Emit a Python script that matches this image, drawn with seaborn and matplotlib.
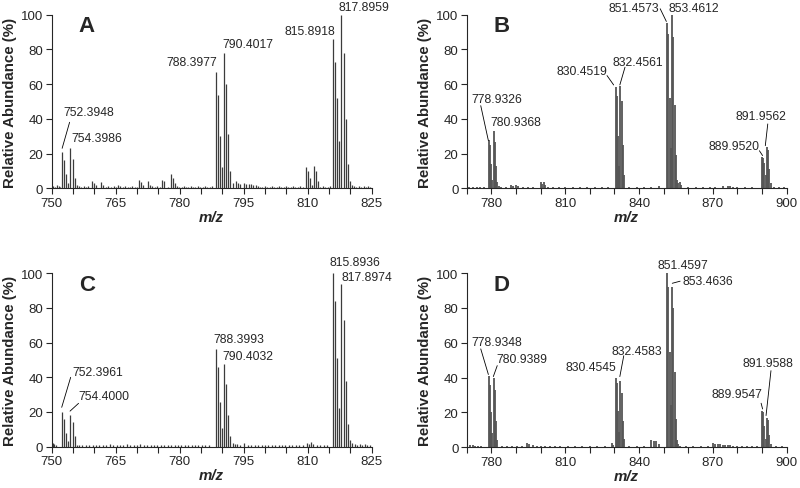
import matplotlib
matplotlib.use("Agg")
import matplotlib.pyplot as plt
import seaborn as sns

# ---- data (m/z, relative abundance %) ----
peaks_a = [
    (752.39, 21), (752.89, 16), (753.39, 8), (753.89, 3),
    (754.40, 23), (754.90, 17), (755.40, 6), (755.90, 2),
    (759.4, 4), (759.9, 3), (760.4, 2), (761.5, 3.5), (762.0, 2),
    (770.4, 5), (770.9, 3.5), (771.4, 2), (772.5, 4), (773.0, 2),
    (775.9, 5), (776.4, 4), (777.9, 8), (778.4, 6), (778.9, 3),
    (788.40, 67), (788.90, 54), (789.40, 30), (789.90, 12),
    (790.40, 78), (790.90, 60), (791.40, 31), (791.90, 10),
    (792.4, 3), (793.2, 4), (793.7, 3), (794.2, 2.5), (795.1, 3),
    (795.6, 2.5), (796.2, 2.5), (796.7, 2.5), (797.3, 2), (797.8, 2),
    (809.5, 12), (810.0, 10), (810.5, 6), (811.0, 2),
    (811.5, 13), (812.0, 10), (812.5, 4),
    (815.89, 86), (816.39, 73), (816.89, 52), (817.39, 27),
    (817.90, 100), (818.40, 78), (818.90, 40), (819.40, 14),
    (819.90, 4), (820.40, 2),
]
noise_a = [
    (750.3, 1.5), (750.8, 1), (751.2, 2), (751.7, 1.5), (752.0, 1),
    (756.4, 1.5), (756.9, 1), (757.5, 1.5), (758.0, 1), (758.6, 1.5),
    (762.8, 1), (763.3, 1.5), (763.9, 1), (764.5, 1.5), (765.0, 1),
    (765.6, 2), (766.1, 1.5), (766.7, 1), (767.3, 1.5), (767.8, 1),
    (768.4, 1), (768.9, 1.5), (769.5, 1), (770.0, 1), (773.6, 1.5),
    (774.2, 1), (774.7, 1.5), (775.3, 1), (777.2, 1), (779.4, 1.5),
    (779.9, 1), (780.5, 1), (781.0, 1.5), (781.5, 1), (782.0, 1),
    (782.6, 1.5), (783.1, 1), (783.7, 1), (784.3, 1.5), (784.8, 1),
    (785.4, 1), (785.9, 1.5), (786.5, 1), (787.1, 1), (787.6, 1.5),
    (798.3, 1.5), (798.8, 1), (799.4, 1), (800.0, 1.5), (800.5, 1),
    (801.1, 1), (801.6, 1.5), (802.2, 1), (802.7, 1), (803.3, 1.5),
    (803.8, 1), (804.4, 1), (804.9, 1.5), (805.5, 1), (806.0, 1),
    (806.6, 1.5), (807.1, 1), (807.7, 1), (808.2, 1.5), (808.8, 1),
    (813.0, 1), (813.6, 1.5), (814.1, 1), (814.7, 1), (815.2, 1.5),
    (820.9, 1.5), (821.4, 1), (822.0, 1.5), (822.5, 1), (823.1, 1.5),
    (823.6, 1), (824.2, 1.5), (824.7, 1),
]

peaks_b = [
    (778.93, 28), (779.43, 25), (779.93, 14), (780.43, 5),
    (780.94, 33), (781.44, 27), (781.94, 13), (782.44, 4), (782.94, 1.5),
    (788.0, 2), (789.0, 1.5), (790.0, 2), (791.0, 1.5),
    (800.0, 3.5), (800.5, 2.5), (801.5, 3.5), (802.0, 2), (803.0, 1),
    (830.45, 58.5), (830.95, 53), (831.45, 30), (831.95, 13),
    (832.46, 59), (832.96, 50), (833.46, 25), (833.96, 8),
    (851.46, 95), (851.96, 89), (852.46, 52), (852.96, 23),
    (853.46, 100), (853.96, 87), (854.46, 48), (854.96, 19),
    (855.46, 5), (855.96, 3), (856.46, 4), (856.96, 2),
    (874.0, 1.5), (876.0, 1.5), (877.0, 1.5), (878.0, 1),
    (889.95, 18), (890.45, 17.5), (890.95, 14.5), (891.45, 8),
    (891.96, 24), (892.46, 22), (892.96, 11), (893.46, 3),
]
noise_b = [
    (771.0, 0.8), (772.5, 1), (774.0, 0.8), (775.5, 1), (777.0, 0.8),
    (784.0, 1), (786.0, 0.8), (793.0, 1), (795.0, 0.8), (797.0, 1),
    (805.0, 0.8), (807.5, 1), (810.0, 0.8), (813.0, 1), (816.0, 0.8),
    (819.0, 1), (822.0, 1), (825.0, 0.8), (827.5, 1), (836.0, 1),
    (839.0, 0.8), (842.0, 1), (845.0, 1), (848.0, 1.5), (860.0, 1),
    (863.0, 0.8), (866.0, 1), (869.0, 0.8), (871.0, 1), (880.0, 1),
    (883.0, 0.8), (886.0, 1), (895.0, 1), (897.0, 0.8), (899.0, 1),
]

peaks_c = [
    (752.39, 20), (752.89, 16), (753.39, 8), (753.89, 3),
    (754.40, 18.5), (754.90, 14), (755.40, 6), (755.90, 1),
    (788.40, 56.5), (788.90, 46), (789.40, 25.5), (789.90, 10.5),
    (790.40, 47.5), (790.90, 36), (791.40, 18), (791.90, 6),
    (792.40, 2), (792.90, 1.5), (795.0, 2),
    (809.8, 2), (810.3, 1.5), (810.8, 2.5), (811.3, 1.5),
    (815.89, 100), (816.39, 84), (816.89, 51), (817.39, 22.5),
    (817.90, 94), (818.40, 73), (818.90, 38), (819.40, 13),
    (819.90, 4), (820.40, 2),
]
noise_c = [
    (750.2, 2), (750.6, 1.5), (751.0, 1), (756.5, 1), (757.2, 0.8),
    (758.0, 1), (758.8, 0.8), (759.6, 1), (760.4, 0.8), (761.2, 1),
    (762.0, 0.8), (762.8, 1), (763.6, 1.5), (764.4, 0.8), (765.2, 1),
    (766.0, 1), (766.8, 0.8), (767.6, 1.5), (768.4, 1), (769.2, 0.8),
    (770.0, 1), (770.8, 1.5), (771.6, 1), (772.4, 0.8), (773.2, 1),
    (774.0, 0.8), (774.8, 1), (775.6, 0.8), (776.4, 1), (777.2, 0.8),
    (778.0, 1), (778.8, 0.8), (779.6, 1), (780.4, 0.8), (781.2, 1),
    (782.0, 0.8), (782.8, 1), (783.6, 0.8), (784.4, 1), (785.2, 0.8),
    (786.0, 1), (786.8, 0.8), (793.4, 1.5), (794.2, 1), (796.0, 1),
    (796.8, 0.8), (797.6, 1), (798.4, 0.8), (799.2, 1), (800.0, 0.8),
    (800.8, 1), (801.6, 0.8), (802.4, 1), (803.2, 0.8), (804.0, 1),
    (804.8, 0.8), (805.6, 1), (806.4, 0.8), (807.2, 1), (808.0, 0.8),
    (808.8, 1), (812.2, 1), (813.0, 0.8), (813.8, 1), (814.6, 0.8),
    (821.0, 1.5), (821.6, 1), (822.2, 1.5), (822.8, 1), (823.4, 1.5),
    (824.0, 1), (824.6, 1),
]

peaks_d = [
    (771.5, 1.5), (772.5, 1.5), (773.5, 1), (774.5, 1),
    (778.93, 41), (779.43, 36), (779.93, 20), (780.43, 8),
    (780.94, 40), (781.44, 33), (781.94, 15), (782.44, 4),
    (794.5, 2.5), (795.5, 2), (797.0, 1.5), (798.5, 1), (800.0, 1),
    (829.0, 2.5), (829.5, 1.5),
    (830.45, 40), (830.95, 37), (831.45, 21), (831.95, 9),
    (832.46, 38), (832.96, 31), (833.46, 15), (833.96, 5),
    (845.0, 4), (846.0, 3.5), (847.0, 3.5), (848.0, 2),
    (851.46, 100), (851.96, 92), (852.46, 55), (852.96, 24),
    (853.46, 92), (853.96, 80), (854.46, 43), (854.96, 16),
    (855.46, 4), (855.96, 2), (856.46, 1),
    (870.0, 2.5), (871.0, 2), (872.0, 2), (873.0, 2), (874.0, 1.5),
    (875.0, 1.5), (876.0, 1.5), (877.0, 1.5), (878.0, 1),
    (889.95, 21), (890.45, 20.5), (890.95, 12), (891.45, 5),
    (891.96, 17), (892.46, 15.5), (892.96, 7), (893.46, 2),
]
noise_d = [
    (776.0, 0.8), (784.5, 1), (786.5, 0.8), (788.5, 1), (790.5, 0.8),
    (792.5, 1), (802.0, 1), (804.0, 0.8), (806.0, 1), (808.0, 0.8),
    (811.0, 1), (814.0, 0.8), (817.0, 1), (820.0, 0.8), (823.0, 1),
    (826.0, 0.8), (836.0, 1), (839.0, 0.8), (842.0, 1), (859.0, 1),
    (862.0, 0.8), (865.0, 1), (868.0, 0.8), (880.0, 1), (882.0, 0.8),
    (884.0, 1), (886.0, 1), (888.0, 0.8), (895.5, 1), (898.0, 0.8),
]

labels_a = ["752.3948", "754.3986", "788.3977", "790.4017", "815.8918", "817.8959"]
labels_b = ["778.9326", "780.9368", "830.4519", "832.4561",
            "851.4573", "853.4612", "889.9520", "891.9562"]
labels_c = ["752.3961", "754.4000", "788.3993", "790.4032", "815.8936", "817.8974"]
labels_d = ["778.9348", "780.9389", "830.4545", "832.4583",
            "851.4597", "853.4636", "889.9547", "891.9588"]

# ---- layout of labels: (x, y, ha, leader line or None) ----
place_a = [
    (752.65, 44, "left", (752.45, 23, 754.2, 38)),
    (754.7, 29, "left", None),
    (788.8, 72.6, "right", None),
    (790.1, 83, "left", None),
    (816.4, 90.8, "right", None),
    (817.2, 104.3, "left", None),
]
place_b = [
    (772.0, 51.5, "left", (775.7, 47.6, 778.8, 27.5)),
    (779.7, 38, "left", None),
    (806.5, 67.8, "left", (827.0, 64.9, 829.7, 59.5)),
    (829.4, 72.6, "left", (834.3, 69.7, 832.2, 59.5)),
    (827.8, 104, "left", (848.6, 103.3, 851.1, 96)),
    (852.1, 104, "left", None),
    (868.3, 24.6, "left", (888.9, 21.7, 890.2, 18.9)),
    (879.2, 41.9, "left", (892.3, 37.1, 891.3, 24.6)),
]
place_c = [
    (754.9, 42.9, "left", (754.45, 40, 752.35, 22.7)),
    (756.2, 29.4, "left", (756.3, 25, 754.3, 20.5)),
    (787.9, 62.1, "left", None),
    (790.1, 52.5, "left", None),
    (815.06, 106.3, "left", None),
    (818.0, 97.7, "left", None),
]
place_d = [
    (772.0, 60.3, "left", (775.7, 56.5, 778.8, 41.8)),
    (782.2, 50.7, "left", (782.4, 46.9, 780.8, 40.6)),
    (810.2, 46, "left", None),
    (828.8, 55.5, "left", (833.8, 52.6, 832.2, 40.6)),
    (847.7, 104.9, "left", None),
    (857.6, 95.7, "left", (853.5, 94.2, 856.7, 95.4)),
    (869.3, 30.6, "left", (889.6, 25.3, 890.2, 22)),
    (882.1, 48.3, "left", (893.6, 44, 891.6, 18.2)),
]

sns.set_style("ticks")
plt.rcParams["font.family"] = ["Liberation Sans", "DejaVu Sans"]


def draw_panel(ax, peaks, noise, labels, place, letter, xlim, major, minor,
               color, lw):
    allpk = noise + peaks
    mz = [p[0] for p in allpk]
    ab = [p[1] for p in allpk]
    ax.vlines(mz, 0, ab, colors=color, linewidth=lw)
    ax.set_xlim(*xlim)
    ax.set_ylim(0, 100)
    ax.set_xticks(major)
    ax.set_xticks(minor, minor=True)
    ax.set_yticks([0, 20, 40, 60, 80, 100])
    ax.tick_params(axis="both", which="both", direction="out", length=4,
                   width=0.8, labelsize=9.5, pad=2)
    ax.set_xlabel("m/z", fontsize=10.8, fontweight="bold", style="italic",
                  labelpad=1)
    ax.set_ylabel("Relative Abundance (%)", fontsize=10.8,
                  fontweight="bold", labelpad=3)
    for side in ["left", "bottom"]:
        ax.spines[side].set_linewidth(0.8)
    sns.despine(ax=ax)
    ax.text(0.085, 0.935, letter, transform=ax.transAxes, fontsize=16,
            fontweight="bold", va="center", ha="left")
    for txt, (x, y, ha, lead) in zip(labels, place):
        ax.text(x, y, txt, ha=ha, va="center", fontsize=8.7, clip_on=False)
        if lead is not None:
            ax.plot([lead[0], lead[2]], [lead[1], lead[3]], color="black",
                    linewidth=0.6, clip_on=False)


fig = plt.figure(figsize=(8, 4.89), dpi=100)
ax_a = fig.add_axes([0.0646, 0.613, 0.4, 0.355])
ax_b = fig.add_axes([0.5834, 0.6125, 0.4, 0.3558])
ax_c = fig.add_axes([0.0646, 0.0845, 0.4, 0.3546])
ax_d = fig.add_axes([0.5834, 0.0833, 0.4, 0.356])

ticks_ac = [750, 765, 780, 795, 810, 825]
minor_ac = list(range(750, 826, 5))
ticks_bd = [780, 810, 840, 870, 900]
minor_bd = list(range(770, 901, 10))

draw_panel(ax_a, peaks_a, noise_a, labels_a, place_a, "A", (750, 825),
           ticks_ac, minor_ac, "#3c3c3c", 0.9)
draw_panel(ax_b, peaks_b, noise_b, labels_b, place_b, "B", (770, 900),
           ticks_bd, minor_bd, "#555555", 1.3)
draw_panel(ax_c, peaks_c, noise_c, labels_c, place_c, "C", (750, 825),
           ticks_ac, minor_ac, "#3c3c3c", 0.9)
draw_panel(ax_d, peaks_d, noise_d, labels_d, place_d, "D", (770, 900),
           ticks_bd, minor_bd, "#555555", 1.3)

fig.savefig("out.png", dpi=100)
